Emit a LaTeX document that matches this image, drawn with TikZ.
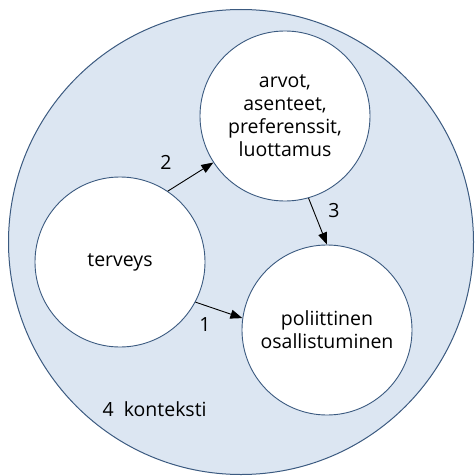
\documentclass[tikz,border=0pt]{standalone}
\usepackage{fontspec}
\setmainfont{Open Sans}
\usetikzlibrary{arrows.meta}
\definecolor{ctxfill}{HTML}{DCE6F2}
\definecolor{ctxline}{HTML}{3B5A80}
\begin{document}
\begin{tikzpicture}[x=1pt,y=1pt,
  inner/.style={circle,draw=ctxline,line width=0.9pt,fill=white,minimum size=170pt,inner sep=0pt,align=center,font=\fontsize{19.5}{23}\selectfont},
  arr/.style={draw=black,line width=0.9pt,-{Triangle[length=12pt,width=9pt]}},
  lbl/.style={font=\fontsize{19.5}{23}\selectfont}]
\useasboundingbox (0,0) rectangle (476,475);
\node[circle,draw=ctxline,line width=1pt,fill=ctxfill,minimum size=465pt,inner sep=0pt] (ctx) at (241,233) {};
\node[inner] (arvot) at (285,359) {arvot,\\asenteet,\\preferenssit,\\luottamus};
\node[inner] (terv) at (120,213) {terveys};
\node[inner] (pol) at (327,145) {poliittinen\\osallistuminen};
\draw[arr] (terv.56) -- (arvot.213);
\draw[arr] (arvot.-74) -- (pol.90);
\draw[arr] (terv.-28) -- (pol.172);
\node[lbl] (l2) at (166,313) {2};
\node[lbl] (l3) at (334,264) {3};
\node[lbl] (l1) at (205,150) {1};
\node[lbl,anchor=west] (l4) at (99,66) {4\ \ konteksti};
\end{tikzpicture}
\end{document}
